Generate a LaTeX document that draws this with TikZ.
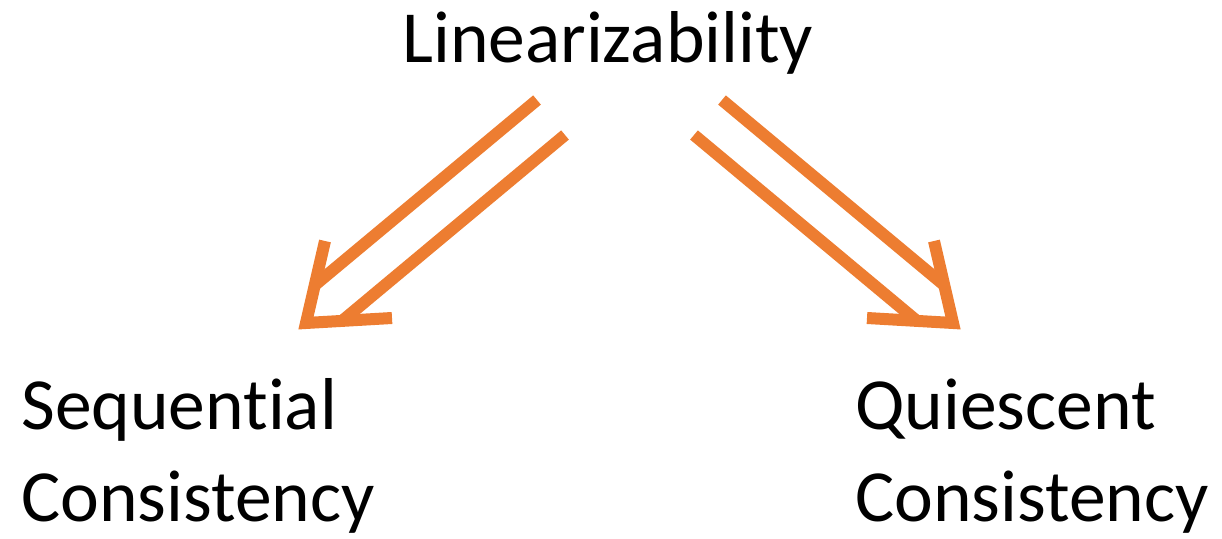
\documentclass[tikz,border=0pt]{standalone}
\usepackage{fontspec}
\setmainfont[Ligatures=NoCommon]{Carlito}
\definecolor{arroworange}{RGB}{237,125,49}

\begin{document}
\begin{tikzpicture}[x=0.5pt,y=-0.5pt]
        \tikzset{term/.style = {anchor=base west,inner sep=0pt,align=left,font=\fontsize{36.75}{46}\selectfont}}
        \tikzset{shaft/.style = {draw=arroworange,line width=6pt}}
        \tikzset{head/.style = {draw=arroworange,line width=6pt,line join=miter}}

        \useasboundingbox (0,0) rectangle (1222,539);

        % base of a two-line node sits on its last line
        \node[term] (lin) at (402,63) {Linearizability};
        \node[term] (seq) at (21,522) {Sequential\\Consistency};
        \node[term] (qui) at (855,522) {Quiescent\\Consistency};

        % left double arrow
        \coordinate (SA) at (537,100);
        \coordinate (SB) at (565,135);
        \coordinate (SAend) at (315,285);
        \coordinate (SBend) at (342,321);
        \coordinate (Stip) at (306,323);
        \coordinate (Sarm1) at (325,241);
        \coordinate (Sarm2) at (392,318);

        \draw[shaft] (SA) to (SAend);
        \draw[shaft] (SB) to (SBend);
        \draw[head] (Sarm1) -- (Stip) -- (Sarm2);

        % right double arrow
        \coordinate (QA) at (722,100);
        \coordinate (QB) at (694,135);
        \coordinate (QAend) at (944,285);
        \coordinate (QBend) at (917,321);
        \coordinate (Qtip) at (953,323);
        \coordinate (Qarm1) at (934,241);
        \coordinate (Qarm2) at (867,318);

        \draw[shaft] (QA) to (QAend);
        \draw[shaft] (QB) to (QBend);
        \draw[head] (Qarm1) -- (Qtip) -- (Qarm2);
\end{tikzpicture}
\end{document}
